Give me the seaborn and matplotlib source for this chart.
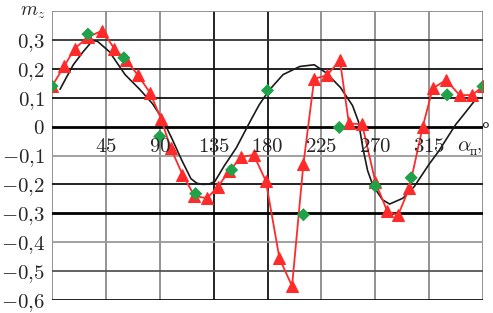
import matplotlib
matplotlib.use("Agg")
import matplotlib.pyplot as plt
import numpy as np
import pandas as pd
import seaborn as sns

# red series (triangles + line)
red_alpha = [0, 10, 19, 30, 42, 52, 62, 72, 82, 91, 99, 109, 119, 129.5, 138.5, 148, 158,
             168.5, 178.6, 190, 200.5, 210, 219, 229.7, 240.5, 248, 259, 270, 280, 289,
             298.5, 309.5, 318, 329, 340.5, 350.7, 360]
red_mz = [0.14, 0.208, 0.27, 0.31, 0.332, 0.27, 0.229, 0.177, 0.116, 0.028, -0.073, -0.166,
          -0.24, -0.248, -0.208, -0.154, -0.105, -0.098, -0.188, -0.456, -0.552, -0.129,
          0.165, 0.178, 0.229, 0.011, 0.008, -0.19, -0.293, -0.307, -0.212, -0.003, 0.132,
          0.161, 0.109, 0.109, 0.139]

# green diamonds
green_alpha = [0, 30, 60, 90, 120, 150, 180, 210, 240, 270, 300, 330, 360]
green_mz = [0.14, 0.32, 0.238, -0.034, -0.232, -0.15, 0.125, -0.305, -0.003, -0.206,
            -0.177, 0.11, 0.139]

# black curve
black_alpha = [6.7, 12, 17.8, 26, 34, 38, 48, 61, 73, 84, 92, 100, 108, 116, 121, 126, 131,
               136, 144, 154, 165, 173, 181, 193, 207, 219, 229, 241, 251, 256, 259.6, 263.6,
               268, 276, 282, 293, 302.5, 315, 323, 337, 345.5, 355]
black_mz = [0.129, 0.17, 0.214, 0.259, 0.298, 0.295, 0.259, 0.18, 0.13, 0.079, 0.028,
            -0.04, -0.113, -0.18, -0.196, -0.2, -0.199, -0.19, -0.135, -0.073, 0.014,
            0.075, 0.124, 0.18, 0.208, 0.214, 0.186, 0.135, 0.073, 0.017, -0.073, -0.152,
            -0.203, -0.253, -0.268, -0.248, -0.208, -0.13, -0.085, 0.006, 0.05, 0.10]

x_ticks = [45, 90, 135, 180, 225, 270, 315]
y_ticks = [-0.6, -0.5, -0.4, -0.3, -0.2, -0.1, 0, 0.1, 0.2, 0.3]

sns.set_style("white")
plt.rcParams["mathtext.fontset"] = "cm"
plt.rcParams["font.family"] = ["DejaVu Serif"]

fig = plt.figure(figsize=(4.93, 3.13), dpi=100)
ax = fig.add_axes([52 / 493, 13 / 313, 431 / 493, 289 / 313])

# grid lines, some dark some grey like the scan
vcols = {0: "#8a8a8a", 45: "#8a8a8a", 90: "#8a8a8a", 135: "#111111", 180: "#111111",
         225: "#8a8a8a", 270: "#8a8a8a", 315: "#8a8a8a", 360: "#8a8a8a"}
for xv, c in vcols.items():
    ax.axvline(xv, color=c, lw=1.3, zorder=0)
hcols = {0.4: "#8a8a8a", 0.3: "#333333", 0.2: "#111111", 0.1: "#111111", 0: "#000000",
         -0.1: "#9a9a9a", -0.2: "#111111", -0.3: "#000000", -0.4: "#9a9a9a",
         -0.5: "#555555", -0.6: "#111111"}
for yv, c in hcols.items():
    ax.axhline(yv, color=c, lw=2.0 if yv in (0, -0.3) else 1.3, zorder=0)

sns.lineplot(x=black_alpha, y=black_mz, color="#1a1a1a", lw=1.2, ax=ax, zorder=2)
sns.lineplot(x=red_alpha, y=red_mz, color="#ff2a2a", lw=1.3, marker="^", markersize=8,
             markeredgecolor="#ff2a2a", ax=ax, zorder=3)
sns.scatterplot(x=green_alpha, y=green_mz, color="#1fa24a", marker="D", s=45,
                edgecolor="none", ax=ax, zorder=4)

ax.set_xlim(0, 360)
ax.set_ylim(-0.6, 0.4)
for s in ax.spines.values():
    s.set_visible(False)
ax.set_xticks([])
ax.set_yticks(y_ticks)
ax.set_yticklabels([r"$-0{,}%d$" % round(-v * 10) if v < 0 else
                    (r"$0$" if v == 0 else r"$0{,}%d$" % round(v * 10)) for v in y_ticks],
                   fontsize=15)
ax.tick_params(axis="y", length=0, pad=5)

for xv in x_ticks:
    ax.annotate(r"$%d$" % xv, (xv, 0), xytext=(0, -14), textcoords="offset points",
                ha="center", va="center", fontsize=15, zorder=5)
ax.annotate(r"$\alpha$", (338, 0), xytext=(0, -14), textcoords="offset points",
            ha="left", va="center", fontsize=15, zorder=5)
ax.annotate("п", (349, 0), xytext=(0, -18), textcoords="offset points",
            ha="left", va="center", fontsize=8, family=["DejaVu Serif"], zorder=5)
ax.annotate(r"$,$", (354, 0), xytext=(0, -15), textcoords="offset points",
            ha="left", va="center", fontsize=13, zorder=5)
ax.annotate("°", (358, 0), xytext=(0, -3), textcoords="offset points",
            ha="left", va="center", fontsize=14, family=["DejaVu Serif"], zorder=6,
            annotation_clip=False)

fig.text(33 / 493, 1 - 12 / 313, r"$m_z$", fontsize=14, ha="center", va="center")

ax.set_xlabel("")
ax.set_ylabel("")
fig.savefig("out.png", dpi=100)
